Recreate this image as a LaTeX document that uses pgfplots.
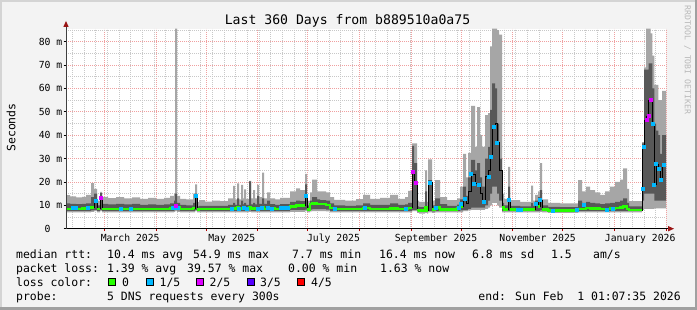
\documentclass[border=0pt]{standalone}
\usepackage{fontspec}
\setmainfont{DejaVu Sans Mono}
\usepackage{pgfplots}
\usepackage{pgfplotstable}
\pgfplotsset{compat=1.18}

\definecolor{bgc}{HTML}{F3F3F3}
\definecolor{shadeA}{HTML}{D4D4D4}
\definecolor{shadeB}{HTML}{A0A0A0}
\definecolor{smokeL}{HTML}{A6A6A6}
\definecolor{smokeD}{HTML}{585858}
\definecolor{lossA}{HTML}{26FF00}
\definecolor{lossB}{HTML}{00B8FF}
\definecolor{lossC}{HTML}{DD00FF}
\definecolor{lossD}{HTML}{5500FF}
\definecolor{lossE}{HTML}{FF0000}
\definecolor{mgrid}{HTML}{F0A0A0}
\definecolor{mingrid}{HTML}{C8C8C8}
\definecolor{arrowc}{HTML}{9A1515}
\definecolor{wmark}{HTML}{B8B8B8}

% day lo dlo med dhi hi green-median
\pgfplotstableread{
d lo dlo med dhi hi g
0 7.0 7.6 8.5 10.8 14.4 8.5
2.4 7.0 7.6 8.5 10.6 13.8 8.5
6 7.0 7.6 8.5 10.5 13.4 8.5
9.6 7.0 7.6 8.6 10.6 13.6 8.6
12 7.0 7.6 8.8 10.8 14.5 8.8
15 7.2 7.8 9.0 13.5 19.5 9.0
16.8 7.5 8.0 12.0 15.0 17.0 9.0
16.8 7.5 8.0 12.0 15.0 17.0 nan
18.6 7.0 7.6 8.5 10.0 12.0 8.5
20.4 7.5 8.0 13.4 15.2 15.8 8.5
20.4 7.5 8.0 13.4 15.2 15.8 nan
21.6 7.0 7.6 8.5 10.6 13.6 8.5
25.2 7.0 7.6 8.4 10.4 13.1 8.4
30 7.0 7.6 8.5 10.6 13.5 8.5
34.8 7.0 7.6 8.4 10.4 13.0 8.4
39.6 7.0 7.6 8.5 10.6 13.4 8.5
44.4 7.0 7.6 8.4 10.2 12.8 8.4
49.2 7.0 7.6 8.5 10.4 13.2 8.5
54 7.0 7.6 8.4 10.2 12.8 8.4
58.8 7.0 7.6 8.5 10.4 13.2 8.5
62.4 7.0 7.6 8.7 10.8 14.0 8.7
64.8 7.2 7.8 9.0 12.0 15.0 9.0
65.4 7.5 8.0 9.8 15.0 85.6 9.0
65.4 7.5 8.0 9.8 15.0 85.6 nan
66.6 7.2 7.8 9.0 11.0 14.0 9.0
68.4 7.0 7.6 8.5 10.2 12.8 8.5
72 7.0 7.6 8.4 10.0 12.5 8.4
76.2 7.0 7.6 8.8 11.0 15.0 8.8
77.4 7.5 8.0 14.0 15.0 19.0 8.8
77.4 7.5 8.0 14.0 15.0 19.0 nan
78.6 7.0 7.6 8.2 9.5 11.5 8.2
79.8 7.0 7.6 8.4 9.8 12.2 8.4
83.4 7.0 7.6 8.4 9.8 11.6 8.4
87.6 7.0 7.6 8.4 9.8 12.0 8.4
92.4 7.0 7.6 8.4 9.8 11.8 8.4
97.2 7.0 7.6 8.5 10.2 13.0 8.5
100.2 7.0 7.6 8.6 11.0 18.3 8.6
101.4 7.0 7.6 8.5 10.2 12.5 8.5
102.6 7.0 7.6 9.0 13.0 19.4 9.0
103.8 7.0 7.6 8.5 10.2 12.5 8.5
105 7.0 7.6 8.8 12.0 18.7 8.8
106.2 7.0 7.6 8.5 10.4 13.0 8.5
106.8 7.0 7.6 8.6 11.0 16.8 8.6
108 7.0 7.6 8.5 10.2 12.8 8.5
109.8 7.2 7.8 9.0 20.2 20.5 9.0
111 7.0 7.6 8.5 10.4 13.0 8.5
112.2 7.0 7.6 8.6 11.0 16.5 8.6
113.4 7.0 7.6 8.5 10.4 13.0 8.5
114.6 7.0 7.6 8.8 14.0 18.7 8.8
115.8 7.0 7.6 8.5 10.6 13.5 8.5
117.6 7.0 7.6 9.0 13.0 24.0 9.0
118.8 7.0 7.6 8.5 10.6 13.0 8.5
120.6 7.0 7.6 8.8 12.0 15.5 8.8
122.4 7.0 7.6 8.6 10.5 13.0 8.6
125.4 7.0 7.6 8.5 10.2 12.5 8.5
128.4 7.0 7.6 8.8 10.5 13.2 8.8
134.4 7.2 8.0 9.6 11.5 16.0 9.6
138 7.2 8.0 9.9 12.0 17.2 9.9
140.4 7.2 8.0 9.8 11.8 16.5 9.8
143.4 7.5 8.2 14.0 19.0 23.4 9.8
143.4 7.5 8.2 14.0 19.0 23.4 nan
144.6 7.0 7.6 8.2 10.0 12.0 8.2
146.4 7.4 8.2 10.5 12.0 15.5 10.5
147.6 7.5 8.4 10.8 13.5 21.0 10.8
150.6 7.5 8.4 10.5 12.5 16.0 10.5
152.4 7.5 8.4 10.6 12.2 16.0 10.6
156 7.4 8.2 10.2 12.0 15.5 10.2
158.4 7.0 7.6 8.8 10.8 13.5 8.8
160.8 7.0 7.6 8.4 10.0 12.3 8.4
167.4 7.0 7.6 8.4 9.8 12.0 8.4
174 7.0 7.6 8.5 10.0 12.6 8.5
178.2 7.0 7.6 8.8 10.8 14.5 8.8
182.4 7.0 7.6 8.5 10.2 12.8 8.5
188.4 7.0 7.6 8.5 10.2 13.2 8.5
194.4 7.0 7.6 8.6 10.8 14.5 8.6
199.2 7.0 7.6 8.5 10.2 12.8 8.5
203.4 7.0 7.6 8.6 10.4 13.5 8.6
205.2 7.0 7.6 8.9 11.0 16.2 8.9
207.6 7.5 8.0 24.4 35.4 36.5 8.9
207.6 7.5 8.0 24.4 35.4 36.5 nan
208.8 7.5 8.0 19.7 28.0 36.5 nan
210.6 6.8 7.4 8.0 9.5 12.0 8.0
211.8 6.5 7.2 7.7 9.2 11.5 7.7
215.4 6.8 7.4 9.0 16.0 25.0 9.0
216.6 6.5 7.2 7.7 9.2 11.5 7.7
217.2 7.0 7.6 19.7 20.8 29.7 7.7
217.2 7.0 7.6 19.7 20.8 29.7 nan
219.6 6.8 7.4 8.3 10.0 12.0 8.3
221.4 7.0 7.6 9.0 13.0 20.8 9.0
224.4 7.0 7.6 8.3 10.5 13.5 8.3
228.6 7.0 7.6 8.3 9.8 12.2 8.3
234.6 7.0 7.6 8.8 10.3 13.0 8.8
236.4 7.0 7.8 9.5 12.5 18.0 9.5
238.2 7.5 8.0 12.6 18.0 32.0 9.5
238.2 7.5 8.0 12.6 18.0 32.0 nan
240 7.5 8.0 11.0 14.0 22.0 nan
241.2 7.8 8.5 16.0 22.0 32.4 nan
243 8.0 9.0 23.3 29.4 52.5 nan
245.4 8.0 9.0 19.4 25.0 35.0 nan
246.6 8.0 9.0 19.0 28.0 52.0 nan
248.4 8.0 9.0 15.0 22.0 40.0 nan
249.6 8.0 9.0 11.5 18.0 35.0 nan
251.4 8.5 10.0 22.2 30.0 48.6 nan
253.2 9.0 12.0 25.0 35.0 49.4 nan
254.4 10.0 15.0 31.0 50.8 78.0 nan
255.6 11.0 18.0 43.6 62.2 85.6 nan
257.4 11.0 18.0 45.0 60.0 85.6 nan
258.6 10.0 15.0 36.8 45.0 85.0 nan
259.8 9.0 12.0 25.0 30.0 83.0 nan
261.6 7.0 7.6 9.0 11.0 15.0 9.0
262.8 7.0 7.6 8.2 10.0 12.8 8.2
265.2 7.0 7.6 11.8 18.0 26.5 8.2
265.2 7.0 7.6 11.8 18.0 26.5 nan
266.4 7.0 7.6 8.2 9.8 12.2 8.2
272.4 7.0 7.6 8.1 9.6 11.5 8.1
279 7.0 7.6 8.4 11.0 18.4 8.4
280.2 7.0 7.6 8.2 9.8 12.0 8.2
281.4 7.0 7.6 11.1 12.0 14.5 8.2
281.4 7.0 7.6 11.1 12.0 14.5 nan
283.2 7.0 7.6 9.5 13.5 16.0 9.5
284.4 7.2 7.8 12.3 16.5 28.0 9.5
284.4 7.2 7.8 12.3 16.5 28.0 nan
285.6 7.0 7.6 8.3 10.0 12.5 8.3
289.2 6.8 7.4 7.8 9.3 11.0 7.8
296.4 6.8 7.4 7.8 9.2 10.8 7.8
307.2 7.0 7.6 8.5 12.0 20.8 8.5
309.6 7.0 7.6 8.5 11.0 16.0 8.5
312 7.0 7.6 8.8 11.5 18.0 8.8
314.4 7.0 7.6 8.6 11.0 16.5 8.6
317.4 7.0 7.6 8.6 10.8 15.5 8.6
320.4 7.0 7.6 8.4 10.5 14.5 8.4
323.4 7.0 7.6 8.5 10.8 16.0 8.5
326.4 7.0 7.6 8.6 11.0 18.0 8.6
329.4 7.0 7.6 8.8 11.5 20.0 8.8
332.4 7.0 7.6 9.0 12.0 21.0 9.0
334.2 7.0 7.6 9.4 13.0 25.8 9.4
336.6 7.0 7.6 8.5 11.0 17.0 8.5
337.8 7.0 7.6 8.0 9.5 11.8 8.0
345.6 8.0 12.0 35.0 36.5 37.0 8.0
345.6 8.0 12.0 35.0 36.5 37.0 nan
346.8 8.5 15.0 46.5 68.0 69.0 nan
348 8.5 15.0 48.2 68.0 85.6 nan
349.5 8.5 15.0 55.0 70.7 85.6 nan
350.7 8.5 15.0 55.0 70.7 83.6 nan
351.8 8.5 15.0 44.8 60.0 74.0 nan
353 8.7 12.0 19.0 45.0 61.5 nan
354 8.7 12.0 27.7 42.0 61.5 nan
355.4 8.7 12.0 25.4 40.0 55.0 nan
356.4 8.7 12.0 20.8 32.0 55.0 nan
357.6 8.7 12.0 27.2 40.0 59.0 nan
360 8.7 12.0 27.2 40.0 59.0 nan
}\smoke
% band heights for stacking
\pgfplotstablecreatecol[create col/expr={\thisrow{hi}-\thisrow{lo}}]{lh}\smoke
\pgfplotstablecreatecol[create col/expr={\thisrow{dlo}-\thisrow{hi}}]{back}\smoke
\pgfplotstablecreatecol[create col/expr={\thisrow{dhi}-\thisrow{dlo}}]{dh}\smoke

\pgfplotstableread{
d v
4.2 8.8
6.0 8.8
13.2 8.8
17.7 12
33.0 8.6
39.0 8.7
63.9 8.8
65.1 9.0
67.2 8.8
78.0 14
99.4 8.6
103.8 8.7
106.8 8.8
108.3 8.6
115.2 8.7
117.6 9.0
121.2 8.8
123.3 8.6
129.0 8.8
131.4 8.9
133.2 9.0
144.0 14
161.4 8.5
179.4 8.8
204.0 8.7
218.4 19.7
222.0 9.0
235.5 8.8
237.0 10.6
239.0 12.7
242.8 23.4
244.4 19.4
247.4 18.7
250.4 11.5
253.4 22.2
255.0 31
256.4 43.6
258.4 36.8
265.4 12.3
271.2 8.1
273.0 8.1
281.8 10.9
284.0 12.3
292.2 7.8
306.4 8.3
310.4 10.1
324.4 8.3
327.8 8.4
345.8 16.9
346.4 35
352.0 44.8
352.8 19
354.0 27.7
355.4 25.8
356.8 20.8
358.8 27.2
}\bluepts

\pgfplotstableread{
d v
21.0 13.4
65.8 9.8
208.2 24.4
209.7 19.7
348.4 46.5
349.8 48.2
351.0 55
}\magpts

\begin{document}
\begin{tikzpicture}
\useasboundingbox (0,0) rectangle (697bp,310bp);
\fill[bgc] (0,0) rectangle (697bp,310bp);
\fill[shadeA] (0,0) rectangle (2bp,310bp);
\fill[shadeA] (0,308bp) rectangle (697bp,310bp);
\fill[shadeB] (0,0) rectangle (697bp,2.5bp);
\fill[shadeB] (694.5bp,0) rectangle (697bp,310bp);
\begin{axis}[
  at={(66bp,81.3bp)}, anchor=south west,
  scale only axis, width=600bp, height=200bp,
  xmin=0, xmax=360, ymin=0, ymax=85.56,
  axis x line*=bottom, axis y line*=left,
  axis line style={draw=none},
  axis background/.style={fill=white},
  xtick={22.95,53.95,83.95,114.95,144.95,175.95,206.95,236.95,267.95,297.95,328.95,359.95},
  xticklabels={},
  minor xtick={3.9,10.9,...,360},
  extra x ticks={38.5,99.5,160.5,222,283,344.5},
  extra x tick labels={March 2025,May 2025,July 2025,September 2025,November 2025,January 2026},
  extra x tick style={grid=none, major tick length=0pt},
  ytick={0,10,...,80},
  yticklabels={0\hphantom{\ m},10 m,20 m,30 m,40 m,50 m,60 m,70 m,80 m},
  minor ytick={5,15,...,85},
  grid=both,
  major grid style={color=mgrid, dash pattern=on 1bp off 1bp, line width=0.8bp},
  minor grid style={color=mingrid, dash pattern=on 1bp off 1bp, line width=0.8bp},
  tick align=outside, major tick length=2.5bp, minor tick length=0pt,
  x tick style={color=red!70!black, line width=0.8bp},
  y tick style={color=black, line width=0.8bp},
  ticklabel style={font=\fontsize{9.8}{11}\selectfont, color=black},
  xticklabel style={anchor=north, inner sep=0pt, yshift=-5bp},
  yticklabel style={anchor=east, inner sep=0pt, xshift=-1bp},
]
\addplot[draw=none, fill=none, const plot, stack plots=y, forget plot] table[x=d,y=lo]{\smoke};
\addplot[fill=smokeL, draw=none, const plot, stack plots=y, forget plot] table[x=d,y=lh]{\smoke} \closedcycle;
\addplot[draw=none, fill=none, const plot, stack plots=y, forget plot] table[x=d,y=back]{\smoke};
\addplot[fill=smokeD, draw=none, const plot, stack plots=y, forget plot] table[x=d,y=dh]{\smoke} \closedcycle;
\addplot[black, line width=0.8bp, const plot, forget plot] table[x=d,y=med]{\smoke};
\addplot[lossA, line width=2.6bp, const plot, unbounded coords=jump, forget plot] table[x=d,y=g]{\smoke};
\addplot[only marks, mark=square*, mark size=1.5bp, color=lossB, forget plot] table[x=d,y=v]{\bluepts};
\addplot[only marks, mark=square*, mark size=1.5bp, color=lossC, forget plot] table[x=d,y=v]{\magpts};
\end{axis}
\begin{scope}[x=1bp,y=1bp]
  \draw[black, line width=1bp] (66,81.3) -- (669,81.3);
  \fill[arrowc] (668,78.6) -- (674,81.3) -- (668,84) -- cycle;
  \draw[black!75, line width=1bp] (66,81.3) -- (66,283.5);
  \fill[arrowc] (63.3,283) -- (66,289) -- (68.7,283) -- cycle;
  \node[anchor=base, inner sep=0pt, font=\fontsize{13.2}{15}\selectfont] at (347.5,286) {Last 360 Days from b889510a0a75};
  \node[rotate=90, inner sep=0pt, font=\fontsize{11.5}{13}\selectfont] at (11,182.5) {Seconds};
  \node[rotate=-90, inner sep=0pt, text=wmark, font=\fontsize{8.2}{9}\selectfont] at (687.5,250) {RRDTOOL / TOBI OETIKER};
  \begin{scope}[every node/.style={anchor=base west, inner sep=0pt, font=\fontsize{11.5}{13}\selectfont}]
    \node at (16,52) {median rtt:};
    \node at (107,52) {10.4 ms avg};
    \node at (193,52) {54.9 ms max};
    \node at (292,52) {7.7 ms min};
    \node at (379,52) {16.4 ms now};
    \node at (472,52) {6.8 ms sd};
    \node at (551,52) {1.5};
    \node at (593,52) {am/s};
    \node at (16,38) {packet loss:};
    \node at (107,38) {1.39 \% avg};
    \node at (187,38) {39.57 \% max};
    \node at (288,38) {0.00 \% min};
    \node at (380,38) {1.63 \% now};
    \node at (16,24) {loss color:};
    \node at (122,24) {0};
    \node at (159.5,24) {1/5};
    \node at (209.5,24) {2/5};
    \node at (260,24) {3/5};
    \node at (311,24) {4/5};
    \node at (16,10) {probe:};
    \node at (107,10) {5 DNS requests every 300s};
    \node[anchor=base east] at (681,10) {end: Sun Feb\ \ 1 01:07:35 2026};
  \end{scope}
  \filldraw[fill=lossA, draw=black, line width=0.8bp] (108.5,25) rectangle (115.5,32);
  \filldraw[fill=lossB, draw=black, line width=0.8bp] (146.5,25) rectangle (153.5,32);
  \filldraw[fill=lossC, draw=black, line width=0.8bp] (196,25) rectangle (203,32);
  \filldraw[fill=lossD, draw=black, line width=0.8bp] (247,25) rectangle (254,32);
  \filldraw[fill=lossE, draw=black, line width=0.8bp] (297.5,25) rectangle (304.5,32);
\end{scope}
\end{tikzpicture}
\end{document}
